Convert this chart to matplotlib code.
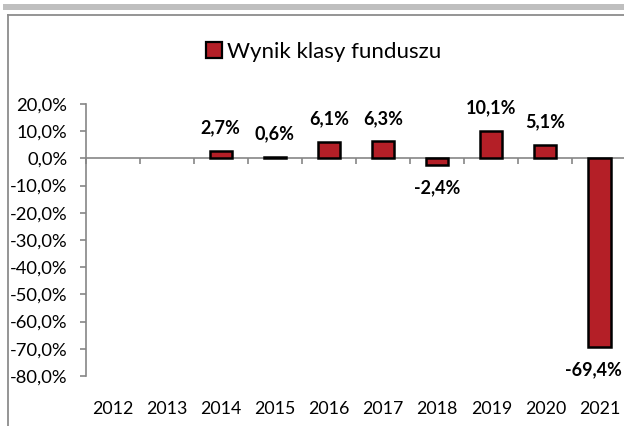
import matplotlib
matplotlib.use("Agg")
import matplotlib.pyplot as plt
from matplotlib.patches import Rectangle
from matplotlib.lines import Line2D
import numpy as np

years = ["2012", "2013", "2014", "2015", "2016", "2017", "2018", "2019", "2020", "2021"]
values = [None, None, 2.7, 0.6, 6.1, 6.3, -2.4, 10.1, 5.1, -69.4]
series_name = "Wynik klasy funduszu"
yticks = [20, 10, 0, -10, -20, -30, -40, -50, -60, -70, -80]

plt.rcParams['font.family'] = ['Lato', 'DejaVu Sans']

W, H = 624, 426
fig = plt.figure(figsize=(W / 100, H / 100), dpi=100)

# decorative frame
fig.patches.append(Rectangle((3 / W, 1 - 9.5 / H), 1, 5.5 / H, transform=fig.transFigure,
                             facecolor="#bfbfbf", edgecolor="none"))
fig.lines.append(Line2D([7.5 / W, 1], [1 - 14.5 / H] * 2, transform=fig.transFigure,
                        color="#8c8c8c", lw=1.3))
fig.lines.append(Line2D([7.5 / W] * 2, [0, 1 - 14.5 / H], transform=fig.transFigure,
                        color="#8c8c8c", lw=1.3))

left = 85.5 / W
right = 626.5 / W
bottom = 1 - 376 / H
top = 1 - 104 / H
ax = fig.add_axes([left, bottom, right - left, top - bottom])

x = np.arange(len(years))
vals = np.array([np.nan if v is None else v for v in values], dtype=float)
bars = ax.bar(x, np.nan_to_num(vals), width=0.41, color="#b41f27", edgecolor="black",
              linewidth=1.8, zorder=3, label=series_name)
for xi, v in zip(x, vals):
    if np.isnan(v):
        bars[xi].set_visible(False)

labels = []
for xi, v in zip(x, vals):
    if np.isnan(v):
        continue
    off = 16.5 if v >= 0 else -16.5
    t = ax.annotate(f"{v:.1f}%".replace(".", ","), (xi, v), xytext=(0, off),
                    textcoords="offset points", ha="center", va="center",
                    fontsize=13, fontweight="bold", color="black", zorder=5)
    labels.append(t)

ax.set_xlim(-0.5, len(years) - 0.5)
ax.set_ylim(-80, 20)
ax.set_yticks(yticks)
ax.set_yticklabels([f"{t:.1f}%".replace(".", ",") for t in yticks], fontsize=13.2)

ax.spines['top'].set_visible(False)
ax.spines['right'].set_visible(False)
ax.spines['left'].set_color("#868686")
ax.spines['left'].set_linewidth(1.2)
ax.spines['bottom'].set_position(('data', 0))
ax.spines['bottom'].set_color("#868686")
ax.spines['bottom'].set_linewidth(1.2)
ax.spines['bottom'].set_zorder(2)

ax.set_xticks(x)
ax.set_xticklabels(years, fontsize=12.8)
ax.set_xticks(np.arange(len(years) + 1) - 0.5, minor=True)
ax.tick_params(axis='x', which='major', length=0, pad=175)
ax.tick_params(axis='x', which='minor', length=4, width=1.2, color="#868686", direction="out")
ax.tick_params(axis='y', length=4, width=1.2, color="#868686", pad=9)
ax.patch.set_visible(False)

leg = fig.legend(handles=[Rectangle((0, 0), 1, 1, facecolor="#b41f27", edgecolor="black", linewidth=1.6)],
                 labels=[series_name], loc="center", bbox_to_anchor=(324 / W, 1 - 52 / H),
                 frameon=False, fontsize=16, handlelength=0.7, handleheight=0.7,
                 handletextpad=0.25, borderpad=0)

# keep data labels inside the figure (like Excel keeps them inside the chart area)
fig.canvas.draw()
renderer = fig.canvas.get_renderer()
for t in labels:
    bb = t.get_window_extent(renderer)
    overflow = bb.x1 - (W - 2)
    if overflow > 0:
        x0, y0 = t.xyann
        t.xyann = (x0 - overflow * 72 / fig.dpi, y0)

fig.savefig("out.png", dpi=100)
